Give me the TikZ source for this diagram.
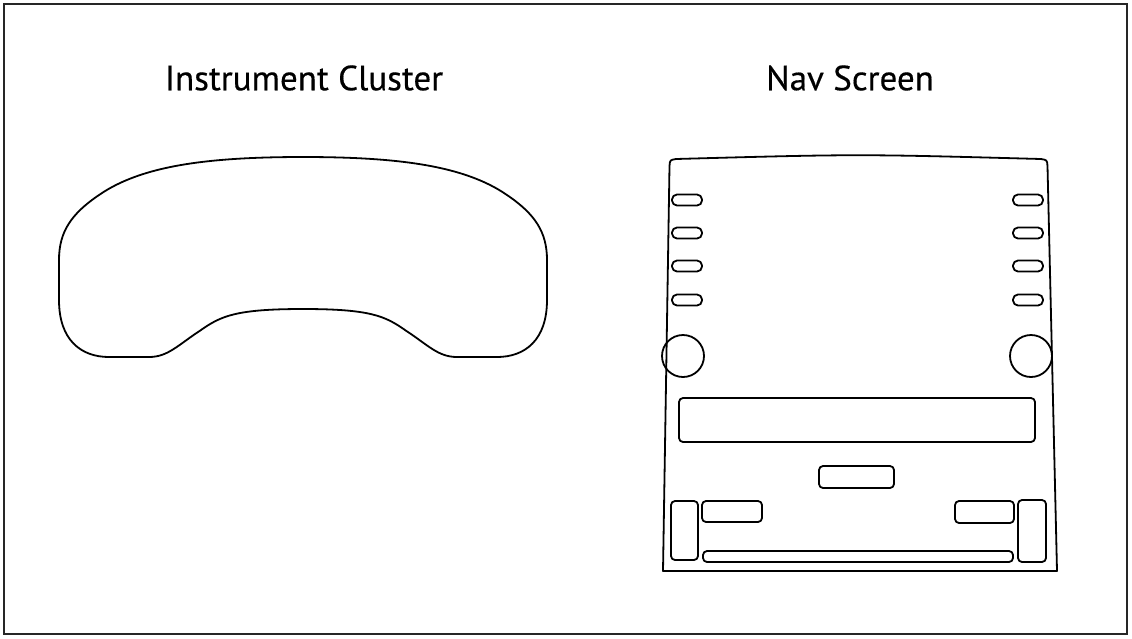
\documentclass[tikz,border=0pt]{standalone}
\usepackage{fontspec}
\setmainfont{PT Sans}
\newfontfamily\titlefont{PT Sans}[FakeBold=0.4]
\tikzset{
  outline/.style={draw=black,line width=1.8pt,line join=round},
  pill/.style={outline,rounded corners=5pt},
  panel/.style={outline,rounded corners=4pt},
  title/.style={font=\titlefont\fontsize{35}{35}\selectfont}
}
\begin{document}
\begin{tikzpicture}[x=1pt,y=-1pt]
\useasboundingbox (0,0) rectangle (1132,638);
\draw[line width=2pt,draw=black!85] (4,4) rectangle (1127,634);
% titles
\node[title] (ictitle) at (304,78) {Instrument Cluster};
\node[title] (navtitle) at (850,78) {Nav Screen};
% instrument cluster outline
\draw[outline] (303,157) .. controls (400,157) and (465,166) .. (507,195)
  .. controls (535,214) and (547,232) .. (547,260) -- (547,300)
  .. controls (547,340) and (525,357) .. (497,357) -- (457,357)
  .. controls (438,357) and (428,345) .. (405,330)
  .. controls (385,316) and (370,309) .. (303,309)
  .. controls (236,309) and (221,316) .. (201,330)
  .. controls (178,345) and (168,357) .. (149,357) -- (109,357)
  .. controls (81,357) and (59,340) .. (59,300) -- (59,260)
  .. controls (59,232) and (71,214) .. (99,195)
  .. controls (141,166) and (206,157) .. (303,157) -- cycle;
% nav screen frame
\draw[outline] (663,571) -- (669.5,166) .. controls (670,160) .. (676,159)
  .. controls (858,154) .. (1041,159) .. controls (1047,160) .. (1047.5,166)
  -- (1057,571) -- cycle;
\foreach \y in {200,233,266,300}{
  \draw[pill] (672,\y-5.5) rectangle (702,\y+5.5);
  \draw[pill] (1013,\y-5.5) rectangle (1043,\y+5.5);
}
\draw[outline] (683,356) circle (21pt);
\draw[outline] (1031,356) circle (21pt);
\draw[panel] (679,398) rectangle (1035,442);
\draw[panel] (819,466) rectangle (894,488);
\draw[panel] (671,501) rectangle (698,560);
\draw[panel] (702,501) rectangle (762,522);
\draw[panel] (955,501) rectangle (1014,523);
\draw[panel] (1018,500) rectangle (1046,562);
\draw[panel] (703,551) rectangle (1013,562);
\end{tikzpicture}
\end{document}
